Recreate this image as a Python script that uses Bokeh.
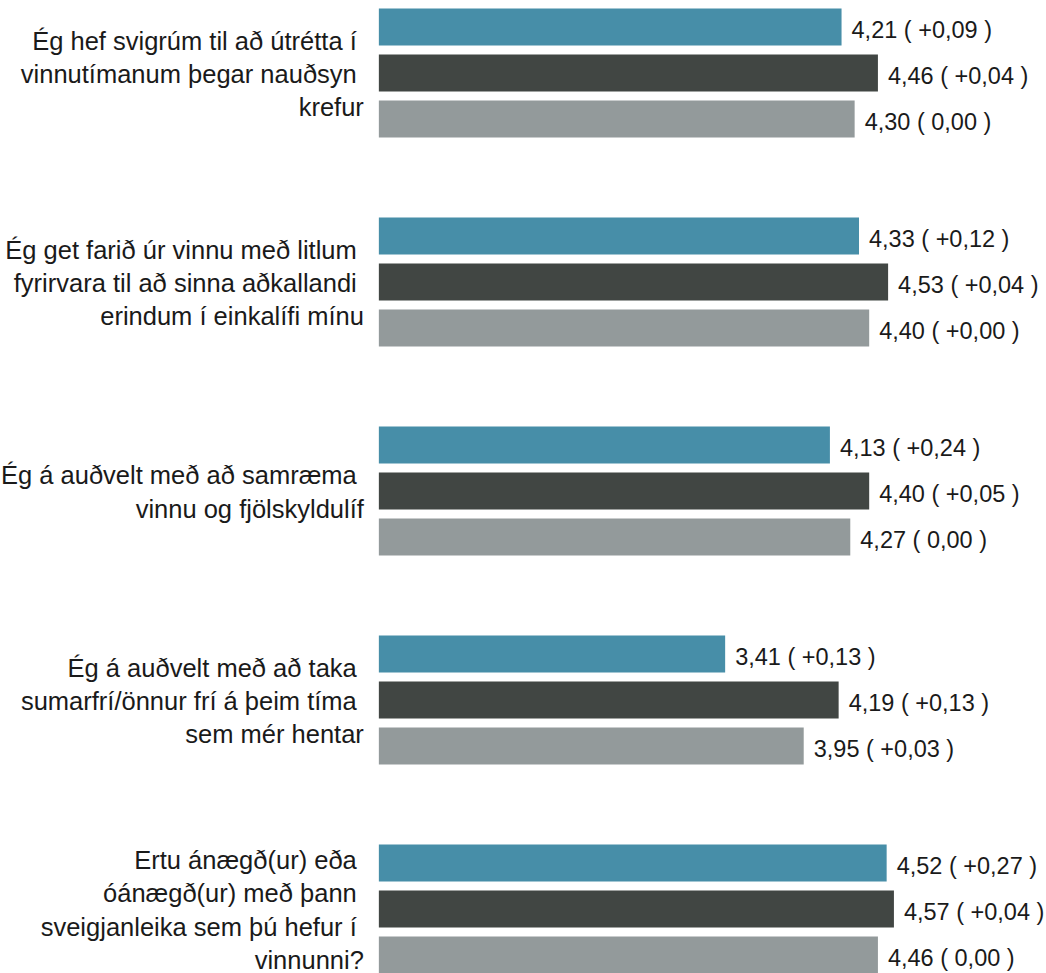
from bokeh.plotting import figure
from bokeh.models import ColumnDataSource, Range1d
from bokeh.core.properties import value
from bokeh.embed import file_html
from bokeh.resources import INLINE

# ---- data ----
questions = [
    "Ég hef svigrúm til að útrétta í \nvinnutímanum þegar nauðsyn \nkrefur",
    "Ég get farið úr vinnu með litlum \nfyrirvara til að sinna aðkallandi \nerindum í einkalífi mínu",
    "Ég á auðvelt með að samræma \nvinnu og fjölskyldulíf",
    "Ég á auðvelt með að taka \nsumarfrí/önnur frí á þeim tíma \nsem mér hentar",
    "Ertu ánægð(ur) eða \nóánægð(ur) með þann \nsveigjanleika sem þú hefur í \nvinnunni?",
]
series_a = [4.21, 4.33, 4.13, 3.41, 4.52]
series_a_change = ["+0,09", "+0,12", "+0,24", "+0,13", "+0,27"]
series_b = [4.46, 4.53, 4.40, 4.19, 4.57]
series_b_change = ["+0,04", "+0,04", "+0,05", "+0,13", "+0,04"]
series_c = [4.30, 4.40, 4.27, 3.95, 4.46]
series_c_change = ["0,00", "+0,00", "0,00", "+0,03", "0,00"]

colors = ["#478EA8", "#414643", "#939A9B"]

# ---- layout constants (styles) ----
BASE = 1.03          # bar baseline
PITCH = 0.2201       # bar pitch within a group
BAR_H = 0.177
FONT = "Liberation Sans"

n = len(questions)
centers = [n - 1 - i for i in range(n)]

p = figure(width=1046, height=973, output_backend="svg", toolbar_location=None,
           x_range=Range1d(-1.5704, 5.6186), y_range=Range1d(-0.3086, 4.3469),
           x_axis_location=None, y_axis_location=None,
           min_border=0, outline_line_color=None)
p.xgrid.visible = False
p.ygrid.visible = False
p.background_fill_color = "white"

all_series = [(series_a, series_a_change), (series_b, series_b_change), (series_c, series_c_change)]
for k, (vals, chg) in enumerate(all_series):
    ys = [c + (1 - k) * PITCH for c in centers]
    labels = [f"{v:.2f}".replace(".", ",") + " ( " + c + " )" for v, c in zip(vals, chg)]
    src = ColumnDataSource(dict(y=ys, right=vals, left=[BASE] * n, lab=labels))
    p.hbar(y="y", left="left", right="right", height=BAR_H, source=src,
           fill_color=colors[k], line_color=None)
    p.text(x="right", y="y", text="lab", source=src, x_offset=10, y_offset=3,
           text_align="left", text_baseline="middle",
           text_font=value(FONT), text_font_size="23.5px", text_color="#1a1a1a")

qsrc = ColumnDataSource(dict(x=[BASE] * n, y=centers, q=questions))
p.text(x="x", y="y", text="q", source=qsrc, x_offset=-15, y_offset=1,
       text_align="right", text_baseline="middle", text_line_height=1.19,
       text_font=value(FONT), text_font_size="25.5px", text_color="#1a1a1a")

open("out.html", "w").write(file_html(p, INLINE))
